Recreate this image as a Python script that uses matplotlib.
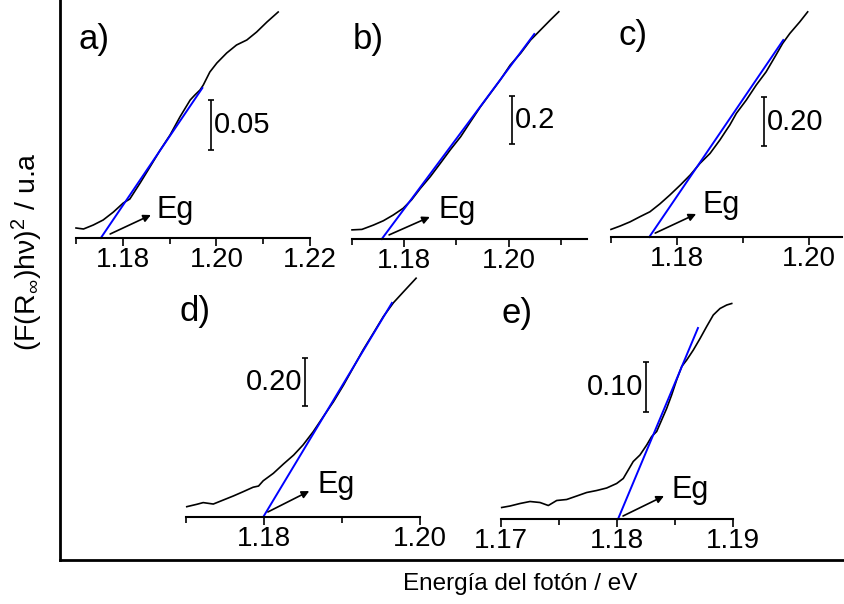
import numpy as np
import matplotlib
matplotlib.use("Agg")
import matplotlib.pyplot as plt
from matplotlib.ticker import FixedLocator, FormatStrFormatter

plt.rcParams["font.family"] = ["Liberation Sans", "DejaVu Sans"]
plt.rcParams["mathtext.fontset"] = "custom"
plt.rcParams["mathtext.rm"] = "Liberation Sans"
plt.rcParams["mathtext.it"] = "Liberation Sans:italic"

# --- datos (energia en eV, intensidad en u.a.) ---
a_x = [1.1700, 1.1716, 1.1737, 1.1758, 1.1780, 1.1801, 1.1815, 1.1837, 1.1858,
       1.1880, 1.1901, 1.1922, 1.1944, 1.1954, 1.1965, 1.1972, 1.1986, 1.2001,
       1.2022, 1.2043, 1.2065, 1.2086, 1.2108, 1.2132]
a_y = [0.010, 0.009, 0.013, 0.018, 0.026, 0.035, 0.039, 0.055, 0.071, 0.088,
       0.103, 0.121, 0.138, 0.143, 0.148, 0.153, 0.166, 0.175, 0.185, 0.193,
       0.198, 0.206, 0.216, 0.226]
a_fit = ([1.1753, 1.1970], [0.0, 0.150])

b_x = [1.1700, 1.1719, 1.1741, 1.1760, 1.1779, 1.1798, 1.1814, 1.1831, 1.1850,
       1.1869, 1.1888, 1.1908, 1.1927, 1.1946, 1.1965, 1.1984, 1.2003, 1.2023,
       1.2042, 1.2061, 1.2080, 1.2096]
b_y = [0.038, 0.040, 0.058, 0.076, 0.100, 0.128, 0.163, 0.211, 0.260, 0.315,
       0.371, 0.426, 0.489, 0.551, 0.607, 0.663, 0.725, 0.774, 0.829, 0.871,
       0.913, 0.947]
b_fit = ([1.1757, 1.2049], [0.0, 0.854])

c_x = [1.1700, 1.1714, 1.1729, 1.1744, 1.1759, 1.1774, 1.1789, 1.1805, 1.1820,
       1.1835, 1.1850, 1.1865, 1.1875, 1.1880, 1.1890, 1.1905, 1.1920, 1.1935,
       1.1950, 1.1960, 1.1971, 1.1986, 1.1998]
c_y = [0.031, 0.045, 0.062, 0.083, 0.103, 0.135, 0.171, 0.212, 0.253, 0.301,
       0.341, 0.396, 0.437, 0.457, 0.505, 0.559, 0.620, 0.674, 0.743, 0.790,
       0.831, 0.878, 0.919]
c_fit = ([1.1758, 1.1961], [0.0, 0.804])

d_x = [1.1701, 1.1714, 1.1722, 1.1735, 1.1748, 1.1761, 1.1773, 1.1786, 1.1793,
       1.1799, 1.1812, 1.1825, 1.1838, 1.1850, 1.1863, 1.1876, 1.1889, 1.1902,
       1.1914, 1.1927, 1.1940, 1.1953, 1.1966, 1.1979, 1.1995]
d_y = [0.043, 0.053, 0.060, 0.054, 0.071, 0.088, 0.105, 0.124, 0.129, 0.151,
       0.182, 0.221, 0.258, 0.300, 0.355, 0.418, 0.480, 0.550, 0.620, 0.696,
       0.765, 0.835, 0.893, 0.939, 0.995]
d_fit = ([1.1799, 1.1964], [0.0, 0.892])

e_x = [1.17006, 1.17078, 1.17164, 1.17250, 1.17336, 1.17408, 1.17480, 1.17566,
       1.17653, 1.17739, 1.17825, 1.17911, 1.17997, 1.18054, 1.18097, 1.18140,
       1.18198, 1.18256, 1.18299, 1.18342, 1.18385, 1.18428, 1.18471, 1.18514,
       1.18558, 1.18601, 1.18658, 1.18716, 1.18773, 1.18830, 1.18888, 1.18946,
       1.18989]
e_y = [0.023, 0.026, 0.031, 0.035, 0.033, 0.027, 0.037, 0.039, 0.046, 0.053,
       0.057, 0.062, 0.071, 0.081, 0.098, 0.115, 0.128, 0.148, 0.165, 0.175,
       0.198, 0.221, 0.248, 0.278, 0.305, 0.318, 0.338, 0.361, 0.385, 0.408,
       0.421, 0.428, 0.431]
e_fit = ([1.18009, 1.18698], [0.0, 0.382])

W, H = 845, 604
fig = plt.figure(figsize=(W / 100, H / 100), dpi=100)


def px_axes(x0, x1, ybot, ytop):
    return fig.add_axes([x0 / W, 1 - ybot / H, (x1 - x0) / W, (ybot - ytop) / H])


# marco exterior
frame = px_axes(60, 845, 560, 0)
for s in ("top", "right"):
    frame.spines[s].set_visible(False)
for s in ("left", "bottom"):
    frame.spines[s].set_linewidth(2.0)
frame.set_xticks([])
frame.set_yticks([])
frame.patch.set_alpha(0)

fig.text(520 / W, 1 - 584 / H, "Energía del fotón / eV", ha="center", va="center",
         fontsize=17.5)
fig.text(27 / W, 1 - 252 / H, r"(F(R$_{\infty}$)hν)$^2$ / u.a", ha="center",
         va="center", rotation=90, fontsize=20.5)

panels = [
    dict(rect=(76, 310, 238, 8), xlim=(1.17, 1.22), ylim=0.23,
         major=[1.18, 1.20, 1.22], minor=[1.17, 1.19, 1.21],
         x=a_x, y=a_y, fit=a_fit, lab="a)", labpos=(78, 39),
         bar=(1.1988, 0.088, 0.138), bartxt="0.05", barside="right",
         arr=((1.1773, 0.004), (1.1860, 0.023)), eg=(1.1873, 0.028)),
    dict(rect=(352, 587, 239, 9), xlim=(1.17, 1.215), ylim=230 * 0.2 / 48,
         major=[1.18, 1.20], minor=[1.17, 1.19, 1.21],
         x=b_x, y=b_y, fit=b_fit, lab="b)", labpos=(353, 40),
         bar=(1.2006, 0.396, 0.596), bartxt="0.2", barside="right",
         arr=((1.1771, 0.017), (1.1849, 0.092)), eg=(1.1865, 0.121)),
    dict(rect=(611, 842, 237, 7), xlim=(1.17, 1.205), ylim=230 * 0.2 / 49,
         major=[1.18, 1.20], minor=[1.17, 1.19],
         x=c_x, y=c_y, fit=c_fit, lab="c)", labpos=(618, 35),
         bar=(1.1932, 0.371, 0.571), bartxt="0.20", barside="right",
         arr=((1.1767, 0.016), (1.1829, 0.094)), eg=(1.1839, 0.131)),
    dict(rect=(186, 420, 517, 267), xlim=(1.17, 1.20), ylim=250 * 0.2 / 48,
         major=[1.18, 1.20], minor=[1.17, 1.19],
         x=d_x, y=d_y, fit=d_fit, lab="d)", labpos=(180, 312),
         bar=(1.1853, 0.4625, 0.6625), bartxt="0.20", barside="left",
         arr=((1.1805, 0.021), (1.1858, 0.108)), eg=(1.1868, 0.133)),
    dict(rect=(501, 733, 519, 269), xlim=(1.17, 1.19), ylim=0.5,
         major=[1.17, 1.18, 1.19], minor=[1.175, 1.185],
         x=e_x, y=e_y, fit=e_fit, lab="e)", labpos=(502, 314),
         bar=(1.1825, 0.214, 0.314), bartxt="0.10", barside="left",
         arr=((1.18052, 0.006), (1.18405, 0.046)), eg=(1.18474, 0.058)),
]

for p in panels:
    ax = px_axes(*p["rect"])
    ax.patch.set_alpha(0)
    for s in ("top", "right", "left"):
        ax.spines[s].set_visible(False)
    ax.spines["bottom"].set_linewidth(1.5)
    ax.set_xlim(*p["xlim"])
    ax.set_ylim(0, p["ylim"])
    ax.set_yticks([])
    ax.xaxis.set_major_locator(FixedLocator(p["major"]))
    ax.xaxis.set_minor_locator(FixedLocator(p["minor"]))
    ax.xaxis.set_major_formatter(FormatStrFormatter("%.2f"))
    ax.tick_params(axis="x", which="major", direction="out", length=5.5, width=1.2,
                   labelsize=20, pad=1)
    ax.tick_params(axis="x", which="minor", direction="out", length=4.5, width=1.2)

    ax.plot(p["x"], p["y"], color="black", lw=1.2, clip_on=False)
    ax.plot(p["fit"][0], p["fit"][1], color="#0000ff", lw=1.4, clip_on=False)

    bx, by0, by1 = p["bar"]
    ax.errorbar([bx], [(by0 + by1) / 2], yerr=[(by1 - by0) / 2], color="black",
                lw=1.2, capsize=2.5, capthick=1.2)
    if p["barside"] == "right":
        ax.annotate(p["bartxt"], xy=(bx, (by0 + by1) / 2), xytext=(2, 0),
                    textcoords="offset points", ha="left", va="center",
                    fontsize=21)
    else:
        ax.annotate(p["bartxt"], xy=(bx, (by0 + by1) / 2), xytext=(-2, 0),
                    textcoords="offset points", ha="right", va="center",
                    fontsize=21)

    ax.annotate("", xy=p["arr"][1], xytext=p["arr"][0],
                arrowprops=dict(arrowstyle="-|>", color="black", lw=1.2,
                                mutation_scale=11, shrinkA=0, shrinkB=0))
    ax.text(p["eg"][0], p["eg"][1], "Eg", ha="left", va="center", fontsize=22)

    fig.text(p["labpos"][0] / W, 1 - p["labpos"][1] / H, p["lab"], ha="left",
             va="center", fontsize=25)

fig.savefig("out.png", dpi=100)
